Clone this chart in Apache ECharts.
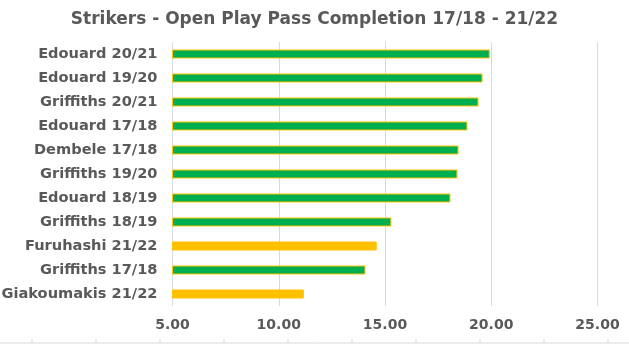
<!DOCTYPE html>
<html><head><meta charset="utf-8">
<script src="https://cdn.jsdelivr.net/npm/echarts@6/dist/echarts.min.js"></script>
<style>html,body{margin:0;padding:0;background:#fff}#c{width:629px;height:345px}</style>
</head><body><div id="c"></div>
<script>
const categories = ["Edouard 20/21","Edouard 19/20","Griffiths 20/21","Edouard 17/18","Dembele 17/18","Griffiths 19/20","Edouard 18/19","Griffiths 18/19","Furuhashi 21/22","Griffiths 17/18","Giakoumakis 21/22"];
const values = [19.93,19.59,19.40,18.88,18.46,18.41,18.08,15.30,14.61,14.08,11.18];
const highlight = [false,false,false,false,false,false,false,false,true,false,true];
const xTicks = [5,10,15,20,25];

const chart = echarts.init(document.getElementById('c'));
const GREEN = '#00B050', YELLOW = '#FFC000', TXT = '#595959';
const font = '"DejaVu Sans", sans-serif';
chart.setOption({
  animation: false,
  title: {text: 'Strikers - Open Play Pass Completion 17/18 - 21/22', left: 'center', top: 6,
    textStyle: {fontFamily: font, fontWeight: 'bold', fontSize: 17, color: TXT}},
  grid: {left: 172.5, right: 31.5, top: 42, bottom: 39, containLabel: false, outerBoundsMode: 'none'},
  xAxis: {type: 'value', min: xTicks[0], max: xTicks[xTicks.length-1], interval: 5,
    axisLine: {show: false}, axisTick: {show: false},
    splitLine: {lineStyle: {color: '#D9D9D9', width: 1}},
    axisLabel: {formatter: v => v.toFixed(2), fontFamily: font, fontWeight: 'bold', fontSize: 14, color: TXT, margin: 12}},
  yAxis: {type: 'category', data: categories, inverse: true,
    axisLine: {show: false}, axisTick: {show: false},
    axisLabel: {fontFamily: font, fontWeight: 'bold', fontSize: 14.6, color: TXT, margin: 15}},
  series: [{type: 'bar', barWidth: 9,
    data: values.map((v, i) => ({value: v, itemStyle: {color: highlight[i] ? YELLOW : GREEN, borderColor: YELLOW, borderWidth: 1}}))}],
  graphic: [{type: 'group', silent: true, children: (function(){
    const arr = [{type: 'line', shape: {x1: 0, y1: 343, x2: 629, y2: 343}, style: {stroke: '#D9D9D9', lineWidth: 1}}];
    for (let x = 32; x < 629; x += 64) arr.push({type: 'line', shape: {x1: x, y1: 339, x2: x, y2: 343}, style: {stroke: '#D9D9D9', lineWidth: 1}});
    return arr;
  })()}]
});
</script></body></html>
